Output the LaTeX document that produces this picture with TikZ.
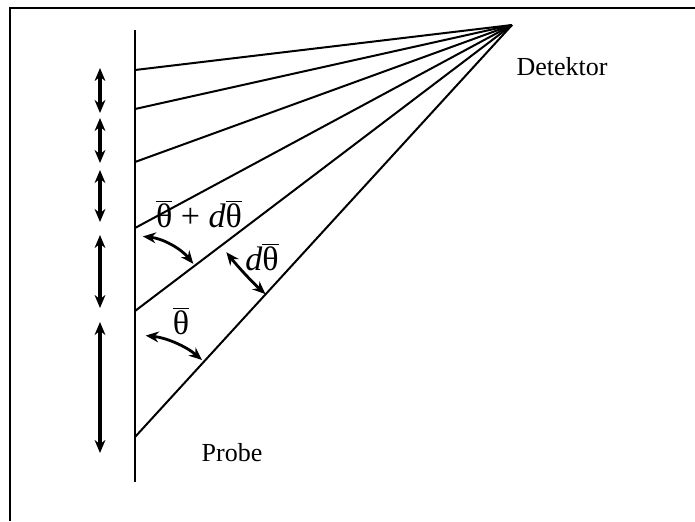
\documentclass[tikz,border=0pt]{standalone}
\usepackage{fontspec}
\setmainfont{Liberation Serif}
\usetikzlibrary{arrows.meta}
\tikzset{
  framerule/.style={line width=1.4pt},
  samplerule/.style={line width=1.2pt},
  fanray/.style={line width=1pt},
  gapmark/.style={{Stealth[length=6.5pt,width=5.4pt]}-{Stealth[length=6.5pt,width=5.4pt]},line width=1.6pt},
  anglemark/.style={{Stealth[length=6.5pt,width=5.4pt]}-{Stealth[length=6.5pt,width=5.4pt]},line width=1.4pt},
  figlabel/.style={font=\fontsize{13}{15}\selectfont,inner sep=0pt},
  anglelabel/.style={font=\fontsize{17}{19}\selectfont,inner sep=0pt},
}
\newcommand{\thbar}{$\overline{\mbox{θ}}$}

\begin{document}
\begin{tikzpicture}[x=0.5pt,y=-0.5pt]
\useasboundingbox (0,0) rectangle (695,521);
% frame (only top and left edge visible)
\draw[framerule] (10,521) -- (10,8) -- (695,8);
% sample surface and detector
\coordinate (stop) at (135,30);
\coordinate (sbot) at (135,482);
\coordinate (det) at (512,25);
\draw[samplerule] (stop) -- (sbot);
% rays from the sample to the detector
\foreach \i/\y in {1/70,2/109,3/162,4/228,5/311,6/437}{
  \coordinate (s\i) at (135,\y);
  \draw[fanray] (s\i) -- (det);
}
% spacing marks
\foreach \i/\ya/\yb in {1/68/113,2/118/163,3/170/222,4/235/308,5/322/453}{
  \coordinate (g\i t) at (100,\ya);
  \coordinate (g\i b) at (100,\yb);
  \draw[gapmark] (g\i t) -- (g\i b);
}
% angles
\draw[anglemark] (s6) ++(-84:102) arc[start angle=-84,end angle=-49,radius=102];
\draw[anglemark] (s5) ++(-84:75) arc[start angle=-84,end angle=-39,radius=75];
\draw[anglemark] (det) ++(-218.5:365) arc[start angle=-218.5,end angle=-227.5,radius=365];
% labels
\node[anglelabel] (lsum) at (199,214) {\thbar\ +\ \textit{d}\thbar};
\node[anglelabel] (ldth) at (262,257) {\textit{d}\thbar};
\node[anglelabel] (lth) at (181,321) {\thbar};
\node[figlabel] (lprobe) at (232,453) {Probe};
\node[figlabel] (ldet) at (562,67) {Detektor};
\end{tikzpicture}
\end{document}
